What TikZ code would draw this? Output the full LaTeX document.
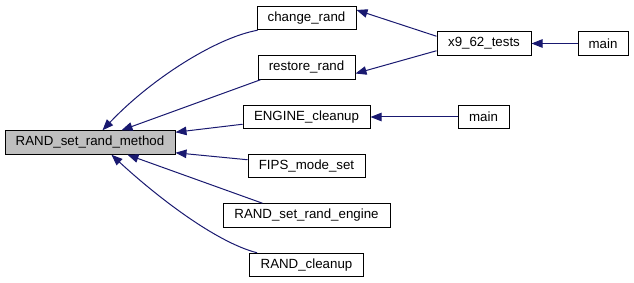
\documentclass[tikz,border=0pt]{standalone}
\usepackage{fontspec}
\setmainfont{Liberation Sans}
\usetikzlibrary{arrows.meta}
\definecolor{edgeblue}{HTML}{191970}
\definecolor{focusgrey}{HTML}{BFBFBF}
\tikzset{
  fn/.style={draw=black, line width=1pt, fill=white, inner sep=0pt,
    font=\fontsize{13.3}{16}\selectfont, minimum height=23.5pt},
  focus/.style={fn, fill=focusgrey},
  call/.style={draw=edgeblue, line width=1pt,
    -{Triangle[length=11pt,width=8.5pt]}, edgeblue},
}
\begin{document}
\begin{tikzpicture}[x=1pt,y=-1pt]
\useasboundingbox (0,0) rectangle (634,283);

% functions
\node[focus, minimum width=170pt] (m)  at (90,142.5)  {RAND\_set\_rand\_method};
\node[fn, minimum width=99pt]  (cr) at (306.5,18)   {change\_rand};
\node[fn, minimum width=97pt]  (rr) at (306.5,67.5) {restore\_rand};
\node[fn, minimum width=127pt] (ec) at (306.5,117)  {ENGINE\_cleanup};
\node[fn, minimum width=117pt] (fm) at (306.5,166)  {FIPS\_mode\_set};
\node[fn, minimum width=167pt] (re) at (306.5,215.5) {RAND\_set\_rand\_engine};
\node[fn, minimum width=114pt] (rc) at (306.5,265)  {RAND\_cleanup};
\node[fn, minimum width=94pt]  (x9) at (484,43.5)   {x9\_62\_tests};
\node[fn, minimum width=50pt]  (m1) at (603,43.5)   {main};
\node[fn, minimum width=51pt]  (m2) at (483.5,117)  {main};

% callers -> callees
\draw[call] ([xshift=1pt]cr.south west) .. controls (215,38) and (150,80) .. ([xshift=98pt]m.north west);
\draw[call] ([xshift=3pt]rr.south west) -- ([xshift=117pt]m.north west);
\draw[call] ([yshift=5pt]ec.south west) -- ([yshift=-2pt]m.north east);
\draw[call] ([yshift=-6pt]fm.north west) -- ([yshift=2pt]m.south east);
\draw[call] ([xshift=40pt]re.north west) -- ([xshift=123pt]m.south west);
\draw[call] ([xshift=8pt]rc.north west) .. controls (215,242) and (155,195) .. ([xshift=107pt]m.south west);
\draw[call] ([yshift=-5pt]x9.north west) -- ([yshift=8pt]cr.east);
\draw[call] ([yshift=5pt]x9.south west) -- ([yshift=-6pt]rr.east);
\draw[call] (m1.west) -- (x9.east);
\draw[call] (m2.west) -- (ec.east);
\end{tikzpicture}
\end{document}
